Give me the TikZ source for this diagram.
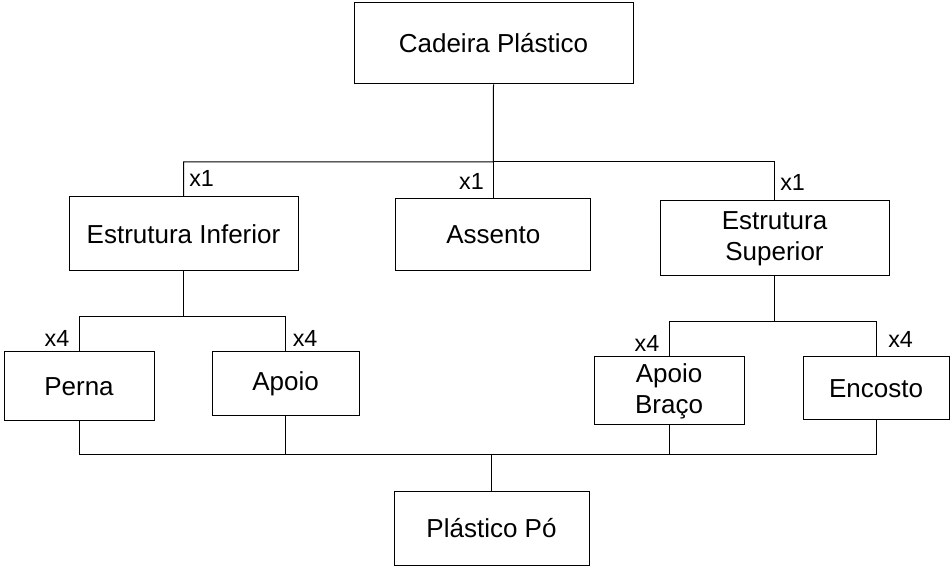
\documentclass[tikz,border=0pt]{standalone}
\usepackage{fontspec}
\setmainfont{Liberation Sans}
\usetikzlibrary{positioning}

\tikzset{
  part/.style={draw, line width=0.75pt, inner sep=0pt, align=center,
    font=\fontsize{19.5}{23.3}\selectfont},
  qty/.style={inner sep=0pt, font=\fontsize{17.5}{20}\selectfont},
  link/.style={line width=0.75pt}
}

\begin{document}
\begin{tikzpicture}[x=0.75pt,y=0.75pt,yscale=-1,xscale=1]
\useasboundingbox (0,0) rectangle (950,566);

% top level
\node[part, minimum width=209.25pt, minimum height=60.75pt] (cadeira) at (493.5,43.5) {Cadeira Plástico};

% sub assemblies
\node[part, minimum width=171.75pt, minimum height=55.5pt] (inferior) at (183.5,234) {Estrutura Inferior};
\node[part, minimum width=146.25pt, minimum height=54pt] (assento) at (493.3,235) {Assento};
\node[part, minimum width=171.75pt, minimum height=56.25pt] (superior) at (774.5,238.5) {Estrutura\\Superior};

% parts
\node[part, minimum width=112.5pt, minimum height=51.75pt] (perna) at (79,386.5) {Perna};
\node[part, minimum width=110.25pt, minimum height=48pt] (apoio) at (285.5,384) {Apoio};
\node[part, minimum width=112.5pt, minimum height=51pt] (braco) at (669,391) {Apoio\\Braço};
\node[part, minimum width=109.5pt, minimum height=47.25pt] (encosto) at (876,388.5) {Encosto};

% raw material
\node[part, minimum width=146.25pt, minimum height=54.75pt] (po) at (491.5,528.5) {Plástico Pó};

% bus points
\coordinate (cbus) at (493.3,162);
\coordinate (ibus) at (183.5,317);
\coordinate (sbus) at (774.5,322);
\coordinate (pbus) at (491.5,455);

% links
\draw[link] (cadeira.south) -- (cbus) -| (inferior.north);
\draw[link] (cbus) -| (superior.north);
\draw[link] (cbus) -- (assento.north);
\draw[link] (inferior.south) -- (ibus) -| (perna.north);
\draw[link] (ibus) -| (apoio.north);
\draw[link] (superior.south) -- (sbus) -| (braco.north);
\draw[link] (sbus) -| (encosto.north);
\draw[link] (perna.south) |- (pbus) -- (po.north);
\draw[link] (encosto.south) |- (pbus);
\draw[link] (apoio.south) -- (apoio.south |- pbus);
\draw[link] (braco.south) -- (braco.south |- pbus);

% quantities
\node[qty, anchor=base west] (q1) at (189,186.7) {x1};
\node[qty, anchor=base east] (q2) at (484,190) {x1};
\node[qty, anchor=base west] (q3) at (780,190.7) {x1};
\node[qty, anchor=base east] (q4) at (69.5,346.7) {x4};
\node[qty, anchor=base west] (q5) at (292.5,346.7) {x4};
\node[qty, anchor=base east] (q6) at (659.5,351.7) {x4};
\node[qty, anchor=base west] (q7) at (888,348) {x4};

\end{tikzpicture}
\end{document}
